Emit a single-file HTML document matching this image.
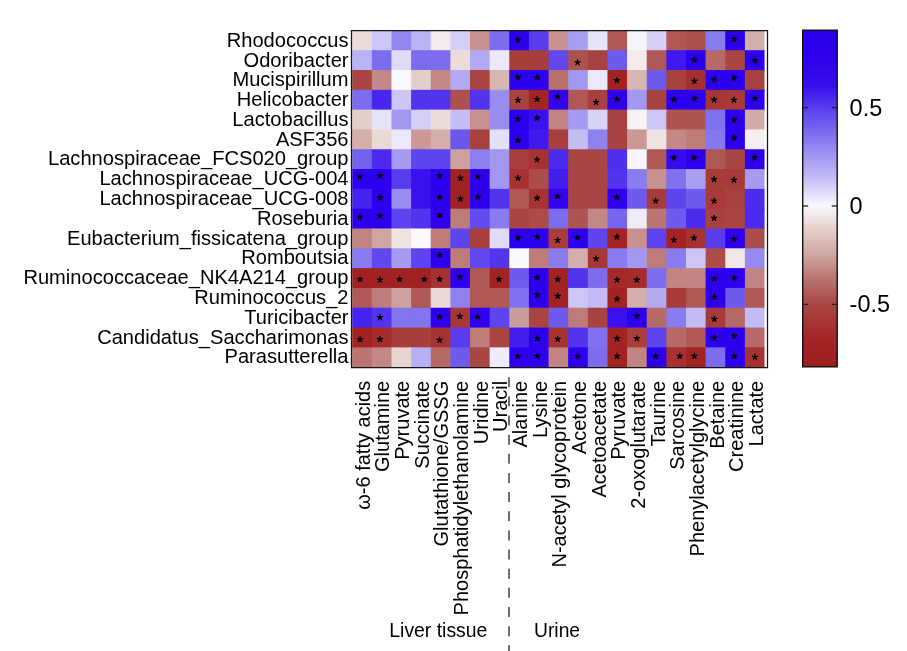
<!DOCTYPE html><html><head><meta charset="utf-8"><style>html,body{margin:0;padding:0;background:#fff;}body{width:907px;height:651px;overflow:hidden;}svg{display:block;will-change:transform;}text{font-family:"Liberation Sans",sans-serif;fill:#000;}</style></head><body>
<svg width="907" height="651" viewBox="0 0 907 651">
<defs><g id="st"><path d="M0,0 L0,-2.7 M0,0 L2.57,-0.83 M0,0 L1.59,2.18 M0,0 L-1.59,2.18 M0,0 L-2.57,-0.83" stroke="#000" stroke-width="1.35" stroke-linecap="round" fill="none"/><circle r="1.3" fill="#000"/></g></defs>
<rect x="352.20" y="30.40" width="20.64" height="20.81" fill="#ebdcda"/>
<rect x="371.83" y="30.40" width="20.64" height="20.81" fill="#ccc6f6"/>
<rect x="391.47" y="30.40" width="20.64" height="20.81" fill="#9286f0"/>
<rect x="411.11" y="30.40" width="20.64" height="20.81" fill="#bbb4f4"/>
<rect x="430.74" y="30.40" width="20.64" height="20.81" fill="#f3ebeb"/>
<rect x="450.38" y="30.40" width="20.64" height="20.81" fill="#d4cff7"/>
<rect x="470.01" y="30.40" width="20.64" height="20.81" fill="#c6918e"/>
<rect x="489.64" y="30.40" width="20.64" height="20.81" fill="#7c6def"/>
<rect x="509.28" y="30.40" width="20.64" height="20.81" fill="#2d00ed"/>
<rect x="528.91" y="30.40" width="20.64" height="20.81" fill="#583cee"/>
<rect x="548.55" y="30.40" width="20.64" height="20.81" fill="#c6918e"/>
<rect x="568.18" y="30.40" width="20.64" height="20.81" fill="#a89ff2"/>
<rect x="587.82" y="30.40" width="20.64" height="20.81" fill="#e7e4fa"/>
<rect x="607.46" y="30.40" width="20.64" height="20.81" fill="#af5856"/>
<rect x="627.09" y="30.40" width="20.64" height="20.81" fill="#f6f5fc"/>
<rect x="646.73" y="30.40" width="20.64" height="20.81" fill="#d4cff7"/>
<rect x="666.36" y="30.40" width="20.64" height="20.81" fill="#af5856"/>
<rect x="686.00" y="30.40" width="20.64" height="20.81" fill="#ad514f"/>
<rect x="705.63" y="30.40" width="20.64" height="20.81" fill="#897bf0"/>
<rect x="725.27" y="30.40" width="20.64" height="20.81" fill="#2d00ed"/>
<rect x="744.90" y="30.40" width="19.64" height="20.81" fill="#d4aeab"/>
<rect x="352.20" y="50.21" width="20.64" height="20.81" fill="#bbb4f4"/>
<rect x="371.83" y="50.21" width="20.64" height="20.81" fill="#7c6def"/>
<rect x="391.47" y="50.21" width="20.64" height="20.81" fill="#dfdbf9"/>
<rect x="411.11" y="50.21" width="20.64" height="20.81" fill="#7c6def"/>
<rect x="430.74" y="50.21" width="20.64" height="20.81" fill="#7c6def"/>
<rect x="450.38" y="50.21" width="20.64" height="20.81" fill="#ebdcda"/>
<rect x="470.01" y="50.21" width="20.64" height="20.81" fill="#b2a9f3"/>
<rect x="489.64" y="50.21" width="20.64" height="20.81" fill="#ebe8fb"/>
<rect x="509.28" y="50.21" width="20.64" height="20.81" fill="#a83d3b"/>
<rect x="528.91" y="50.21" width="20.64" height="20.81" fill="#a83d3b"/>
<rect x="548.55" y="50.21" width="20.64" height="20.81" fill="#6047ee"/>
<rect x="568.18" y="50.21" width="20.64" height="20.81" fill="#ad514f"/>
<rect x="587.82" y="50.21" width="20.64" height="20.81" fill="#a84240"/>
<rect x="607.46" y="50.21" width="20.64" height="20.81" fill="#6e5bee"/>
<rect x="627.09" y="50.21" width="20.64" height="20.81" fill="#f3ebeb"/>
<rect x="646.73" y="50.21" width="20.64" height="20.81" fill="#af5856"/>
<rect x="666.36" y="50.21" width="20.64" height="20.81" fill="#4019ee"/>
<rect x="686.00" y="50.21" width="20.64" height="20.81" fill="#2d00ed"/>
<rect x="705.63" y="50.21" width="20.64" height="20.81" fill="#b66967"/>
<rect x="725.27" y="50.21" width="20.64" height="20.81" fill="#a94644"/>
<rect x="744.90" y="50.21" width="19.64" height="20.81" fill="#2d00ed"/>
<rect x="352.20" y="70.02" width="20.64" height="20.81" fill="#a94644"/>
<rect x="371.83" y="70.02" width="20.64" height="20.81" fill="#c38886"/>
<rect x="391.47" y="70.02" width="20.64" height="20.81" fill="#faf9fd"/>
<rect x="411.11" y="70.02" width="20.64" height="20.81" fill="#e4cec8"/>
<rect x="430.74" y="70.02" width="20.64" height="20.81" fill="#c38886"/>
<rect x="450.38" y="70.02" width="20.64" height="20.81" fill="#b2a9f3"/>
<rect x="470.01" y="70.02" width="20.64" height="20.81" fill="#a94644"/>
<rect x="489.64" y="70.02" width="20.64" height="20.81" fill="#d7b5b1"/>
<rect x="509.28" y="70.02" width="20.64" height="20.81" fill="#2d00ed"/>
<rect x="528.91" y="70.02" width="20.64" height="20.81" fill="#2d00ed"/>
<rect x="548.55" y="70.02" width="20.64" height="20.81" fill="#b8706e"/>
<rect x="568.18" y="70.02" width="20.64" height="20.81" fill="#a298f2"/>
<rect x="587.82" y="70.02" width="20.64" height="20.81" fill="#ebe8fb"/>
<rect x="607.46" y="70.02" width="20.64" height="20.81" fill="#a32323"/>
<rect x="627.09" y="70.02" width="20.64" height="20.81" fill="#d7b5b1"/>
<rect x="646.73" y="70.02" width="20.64" height="20.81" fill="#6e5bee"/>
<rect x="666.36" y="70.02" width="20.64" height="20.81" fill="#a84240"/>
<rect x="686.00" y="70.02" width="20.64" height="20.81" fill="#a62f2f"/>
<rect x="705.63" y="70.02" width="20.64" height="20.81" fill="#2d00ed"/>
<rect x="725.27" y="70.02" width="20.64" height="20.81" fill="#2d00ee"/>
<rect x="744.90" y="70.02" width="19.64" height="20.81" fill="#a84240"/>
<rect x="352.20" y="89.83" width="20.64" height="20.81" fill="#7c6def"/>
<rect x="371.83" y="89.83" width="20.64" height="20.81" fill="#4926ee"/>
<rect x="391.47" y="89.83" width="20.64" height="20.81" fill="#ccc6f6"/>
<rect x="411.11" y="89.83" width="20.64" height="20.81" fill="#5233ee"/>
<rect x="430.74" y="89.83" width="20.64" height="20.81" fill="#5233ee"/>
<rect x="450.38" y="89.83" width="20.64" height="20.81" fill="#ad514f"/>
<rect x="470.01" y="89.83" width="20.64" height="20.81" fill="#5233ee"/>
<rect x="489.64" y="89.83" width="20.64" height="20.81" fill="#998df1"/>
<rect x="509.28" y="89.83" width="20.64" height="20.81" fill="#a84240"/>
<rect x="528.91" y="89.83" width="20.64" height="20.81" fill="#a42424"/>
<rect x="548.55" y="89.83" width="20.64" height="20.81" fill="#3205ee"/>
<rect x="568.18" y="89.83" width="20.64" height="20.81" fill="#af5856"/>
<rect x="587.82" y="89.83" width="20.64" height="20.81" fill="#a8403f"/>
<rect x="607.46" y="89.83" width="20.64" height="20.81" fill="#2e00ee"/>
<rect x="627.09" y="89.83" width="20.64" height="20.81" fill="#a298f2"/>
<rect x="646.73" y="89.83" width="20.64" height="20.81" fill="#a84240"/>
<rect x="666.36" y="89.83" width="20.64" height="20.81" fill="#2d00ee"/>
<rect x="686.00" y="89.83" width="20.64" height="20.81" fill="#2d00ee"/>
<rect x="705.63" y="89.83" width="20.64" height="20.81" fill="#a73736"/>
<rect x="725.27" y="89.83" width="20.64" height="20.81" fill="#a73938"/>
<rect x="744.90" y="89.83" width="19.64" height="20.81" fill="#2d00ee"/>
<rect x="352.20" y="109.64" width="20.64" height="20.81" fill="#e4cec8"/>
<rect x="371.83" y="109.64" width="20.64" height="20.81" fill="#e7e4fa"/>
<rect x="391.47" y="109.64" width="20.64" height="20.81" fill="#a298f2"/>
<rect x="411.11" y="109.64" width="20.64" height="20.81" fill="#d4cff7"/>
<rect x="430.74" y="109.64" width="20.64" height="20.81" fill="#ebdcda"/>
<rect x="450.38" y="109.64" width="20.64" height="20.81" fill="#c5bef5"/>
<rect x="470.01" y="109.64" width="20.64" height="20.81" fill="#c6918e"/>
<rect x="489.64" y="109.64" width="20.64" height="20.81" fill="#998df1"/>
<rect x="509.28" y="109.64" width="20.64" height="20.81" fill="#2d00ed"/>
<rect x="528.91" y="109.64" width="20.64" height="20.81" fill="#3a10ee"/>
<rect x="548.55" y="109.64" width="20.64" height="20.81" fill="#c18482"/>
<rect x="568.18" y="109.64" width="20.64" height="20.81" fill="#a59bf2"/>
<rect x="587.82" y="109.64" width="20.64" height="20.81" fill="#d7d3f7"/>
<rect x="607.46" y="109.64" width="20.64" height="20.81" fill="#a84240"/>
<rect x="627.09" y="109.64" width="20.64" height="20.81" fill="#f6f2f4"/>
<rect x="646.73" y="109.64" width="20.64" height="20.81" fill="#ccc6f6"/>
<rect x="666.36" y="109.64" width="20.64" height="20.81" fill="#ae5452"/>
<rect x="686.00" y="109.64" width="20.64" height="20.81" fill="#ae5452"/>
<rect x="705.63" y="109.64" width="20.64" height="20.81" fill="#7f71ef"/>
<rect x="725.27" y="109.64" width="20.64" height="20.81" fill="#2d00ed"/>
<rect x="744.90" y="109.64" width="19.64" height="20.81" fill="#d2aba8"/>
<rect x="352.20" y="129.45" width="20.64" height="20.81" fill="#d4aeab"/>
<rect x="371.83" y="129.45" width="20.64" height="20.81" fill="#ead9d5"/>
<rect x="391.47" y="129.45" width="20.64" height="20.81" fill="#ebe8fb"/>
<rect x="411.11" y="129.45" width="20.64" height="20.81" fill="#ca9996"/>
<rect x="430.74" y="129.45" width="20.64" height="20.81" fill="#d4aeab"/>
<rect x="450.38" y="129.45" width="20.64" height="20.81" fill="#6b57ee"/>
<rect x="470.01" y="129.45" width="20.64" height="20.81" fill="#a84240"/>
<rect x="489.64" y="129.45" width="20.64" height="20.81" fill="#e3e0f9"/>
<rect x="509.28" y="129.45" width="20.64" height="20.81" fill="#2d00ed"/>
<rect x="528.91" y="129.45" width="20.64" height="20.81" fill="#4019ee"/>
<rect x="548.55" y="129.45" width="20.64" height="20.81" fill="#a8403f"/>
<rect x="568.18" y="129.45" width="20.64" height="20.81" fill="#c5bef5"/>
<rect x="587.82" y="129.45" width="20.64" height="20.81" fill="#8f82f0"/>
<rect x="607.46" y="129.45" width="20.64" height="20.81" fill="#a84240"/>
<rect x="627.09" y="129.45" width="20.64" height="20.81" fill="#ca9996"/>
<rect x="646.73" y="129.45" width="20.64" height="20.81" fill="#efe4e2"/>
<rect x="666.36" y="129.45" width="20.64" height="20.81" fill="#c38886"/>
<rect x="686.00" y="129.45" width="20.64" height="20.81" fill="#bd7c7a"/>
<rect x="705.63" y="129.45" width="20.64" height="20.81" fill="#8678ef"/>
<rect x="725.27" y="129.45" width="20.64" height="20.81" fill="#2d00ed"/>
<rect x="744.90" y="129.45" width="19.64" height="20.81" fill="#f4eef0"/>
<rect x="352.20" y="149.26" width="20.64" height="20.81" fill="#7362ee"/>
<rect x="371.83" y="149.26" width="20.64" height="20.81" fill="#4c2aee"/>
<rect x="391.47" y="149.26" width="20.64" height="20.81" fill="#a59bf2"/>
<rect x="411.11" y="149.26" width="20.64" height="20.81" fill="#5d44ee"/>
<rect x="430.74" y="149.26" width="20.64" height="20.81" fill="#5d44ee"/>
<rect x="450.38" y="149.26" width="20.64" height="20.81" fill="#cda19e"/>
<rect x="470.01" y="149.26" width="20.64" height="20.81" fill="#8c7ff0"/>
<rect x="489.64" y="149.26" width="20.64" height="20.81" fill="#a298f2"/>
<rect x="509.28" y="149.26" width="20.64" height="20.81" fill="#a83e3d"/>
<rect x="528.91" y="149.26" width="20.64" height="20.81" fill="#a63332"/>
<rect x="548.55" y="149.26" width="20.64" height="20.81" fill="#4c2aee"/>
<rect x="568.18" y="149.26" width="20.64" height="20.81" fill="#a94644"/>
<rect x="587.82" y="149.26" width="20.64" height="20.81" fill="#a94644"/>
<rect x="607.46" y="149.26" width="20.64" height="20.81" fill="#4f2fee"/>
<rect x="627.09" y="149.26" width="20.64" height="20.81" fill="#f6f5fc"/>
<rect x="646.73" y="149.26" width="20.64" height="20.81" fill="#af5856"/>
<rect x="666.36" y="149.26" width="20.64" height="20.81" fill="#360bee"/>
<rect x="686.00" y="149.26" width="20.64" height="20.81" fill="#2e00ee"/>
<rect x="705.63" y="149.26" width="20.64" height="20.81" fill="#af5856"/>
<rect x="725.27" y="149.26" width="20.64" height="20.81" fill="#a94644"/>
<rect x="744.90" y="149.26" width="19.64" height="20.81" fill="#2e00ee"/>
<rect x="352.20" y="169.07" width="20.64" height="20.81" fill="#2d00ed"/>
<rect x="371.83" y="169.07" width="20.64" height="20.81" fill="#2d00ed"/>
<rect x="391.47" y="169.07" width="20.64" height="20.81" fill="#583cee"/>
<rect x="411.11" y="169.07" width="20.64" height="20.81" fill="#3a10ee"/>
<rect x="430.74" y="169.07" width="20.64" height="20.81" fill="#2d00ed"/>
<rect x="450.38" y="169.07" width="20.64" height="20.81" fill="#a22223"/>
<rect x="470.01" y="169.07" width="20.64" height="20.81" fill="#2e00ee"/>
<rect x="489.64" y="169.07" width="20.64" height="20.81" fill="#a298f2"/>
<rect x="509.28" y="169.07" width="20.64" height="20.81" fill="#a63332"/>
<rect x="528.91" y="169.07" width="20.64" height="20.81" fill="#ac4d4b"/>
<rect x="548.55" y="169.07" width="20.64" height="20.81" fill="#431dee"/>
<rect x="568.18" y="169.07" width="20.64" height="20.81" fill="#a94644"/>
<rect x="587.82" y="169.07" width="20.64" height="20.81" fill="#a94644"/>
<rect x="607.46" y="169.07" width="20.64" height="20.81" fill="#5233ee"/>
<rect x="627.09" y="169.07" width="20.64" height="20.81" fill="#897bf0"/>
<rect x="646.73" y="169.07" width="20.64" height="20.81" fill="#c6918e"/>
<rect x="666.36" y="169.07" width="20.64" height="20.81" fill="#7f71ef"/>
<rect x="686.00" y="169.07" width="20.64" height="20.81" fill="#a89ff2"/>
<rect x="705.63" y="169.07" width="20.64" height="20.81" fill="#a73b39"/>
<rect x="725.27" y="169.07" width="20.64" height="20.81" fill="#a73b39"/>
<rect x="744.90" y="169.07" width="19.64" height="20.81" fill="#a59bf2"/>
<rect x="352.20" y="188.88" width="20.64" height="20.81" fill="#4622ee"/>
<rect x="371.83" y="188.88" width="20.64" height="20.81" fill="#2d00ed"/>
<rect x="391.47" y="188.88" width="20.64" height="20.81" fill="#998df1"/>
<rect x="411.11" y="188.88" width="20.64" height="20.81" fill="#3a10ee"/>
<rect x="430.74" y="188.88" width="20.64" height="20.81" fill="#2d00ed"/>
<rect x="450.38" y="188.88" width="20.64" height="20.81" fill="#a22223"/>
<rect x="470.01" y="188.88" width="20.64" height="20.81" fill="#2d00ee"/>
<rect x="489.64" y="188.88" width="20.64" height="20.81" fill="#5233ee"/>
<rect x="509.28" y="188.88" width="20.64" height="20.81" fill="#af5856"/>
<rect x="528.91" y="188.88" width="20.64" height="20.81" fill="#a63332"/>
<rect x="548.55" y="188.88" width="20.64" height="20.81" fill="#3205ee"/>
<rect x="568.18" y="188.88" width="20.64" height="20.81" fill="#a94644"/>
<rect x="587.82" y="188.88" width="20.64" height="20.81" fill="#a94644"/>
<rect x="607.46" y="188.88" width="20.64" height="20.81" fill="#2e00ee"/>
<rect x="627.09" y="188.88" width="20.64" height="20.81" fill="#6e5bee"/>
<rect x="646.73" y="188.88" width="20.64" height="20.81" fill="#a73b39"/>
<rect x="666.36" y="188.88" width="20.64" height="20.81" fill="#5d44ee"/>
<rect x="686.00" y="188.88" width="20.64" height="20.81" fill="#6e5bee"/>
<rect x="705.63" y="188.88" width="20.64" height="20.81" fill="#a73b39"/>
<rect x="725.27" y="188.88" width="20.64" height="20.81" fill="#a84240"/>
<rect x="744.90" y="188.88" width="19.64" height="20.81" fill="#4c2aee"/>
<rect x="352.20" y="208.69" width="20.64" height="20.81" fill="#2d00ed"/>
<rect x="371.83" y="208.69" width="20.64" height="20.81" fill="#2d00ed"/>
<rect x="391.47" y="208.69" width="20.64" height="20.81" fill="#5d44ee"/>
<rect x="411.11" y="208.69" width="20.64" height="20.81" fill="#5233ee"/>
<rect x="430.74" y="208.69" width="20.64" height="20.81" fill="#2e00ee"/>
<rect x="450.38" y="208.69" width="20.64" height="20.81" fill="#bd7c7a"/>
<rect x="470.01" y="208.69" width="20.64" height="20.81" fill="#634bee"/>
<rect x="489.64" y="208.69" width="20.64" height="20.81" fill="#897bf0"/>
<rect x="509.28" y="208.69" width="20.64" height="20.81" fill="#a94644"/>
<rect x="528.91" y="208.69" width="20.64" height="20.81" fill="#ac4d4b"/>
<rect x="548.55" y="208.69" width="20.64" height="20.81" fill="#7c6def"/>
<rect x="568.18" y="208.69" width="20.64" height="20.81" fill="#ae5452"/>
<rect x="587.82" y="208.69" width="20.64" height="20.81" fill="#c38886"/>
<rect x="607.46" y="208.69" width="20.64" height="20.81" fill="#7666ee"/>
<rect x="627.09" y="208.69" width="20.64" height="20.81" fill="#eeecfb"/>
<rect x="646.73" y="208.69" width="20.64" height="20.81" fill="#ba7472"/>
<rect x="666.36" y="208.69" width="20.64" height="20.81" fill="#6e5bee"/>
<rect x="686.00" y="208.69" width="20.64" height="20.81" fill="#4c2aee"/>
<rect x="705.63" y="208.69" width="20.64" height="20.81" fill="#a84240"/>
<rect x="725.27" y="208.69" width="20.64" height="20.81" fill="#a94644"/>
<rect x="744.90" y="208.69" width="19.64" height="20.81" fill="#4c2aee"/>
<rect x="352.20" y="228.50" width="20.64" height="20.81" fill="#c18482"/>
<rect x="371.83" y="228.50" width="20.64" height="20.81" fill="#cfa5a2"/>
<rect x="391.47" y="228.50" width="20.64" height="20.81" fill="#efe4e2"/>
<rect x="411.11" y="228.50" width="20.64" height="20.81" fill="#faf9fd"/>
<rect x="430.74" y="228.50" width="20.64" height="20.81" fill="#bd7c7a"/>
<rect x="450.38" y="228.50" width="20.64" height="20.81" fill="#5d44ee"/>
<rect x="470.01" y="228.50" width="20.64" height="20.81" fill="#a83e3d"/>
<rect x="489.64" y="228.50" width="20.64" height="20.81" fill="#dfdbf9"/>
<rect x="509.28" y="228.50" width="20.64" height="20.81" fill="#2d00ed"/>
<rect x="528.91" y="228.50" width="20.64" height="20.81" fill="#2d00ed"/>
<rect x="548.55" y="228.50" width="20.64" height="20.81" fill="#a83d3b"/>
<rect x="568.18" y="228.50" width="20.64" height="20.81" fill="#2e00ee"/>
<rect x="587.82" y="228.50" width="20.64" height="20.81" fill="#5d44ee"/>
<rect x="607.46" y="228.50" width="20.64" height="20.81" fill="#a42424"/>
<rect x="627.09" y="228.50" width="20.64" height="20.81" fill="#c6918e"/>
<rect x="646.73" y="228.50" width="20.64" height="20.81" fill="#5d44ee"/>
<rect x="666.36" y="228.50" width="20.64" height="20.81" fill="#a42424"/>
<rect x="686.00" y="228.50" width="20.64" height="20.81" fill="#a63332"/>
<rect x="705.63" y="228.50" width="20.64" height="20.81" fill="#583cee"/>
<rect x="725.27" y="228.50" width="20.64" height="20.81" fill="#2e00ee"/>
<rect x="744.90" y="228.50" width="19.64" height="20.81" fill="#ac4d4b"/>
<rect x="352.20" y="248.31" width="20.64" height="20.81" fill="#897bf0"/>
<rect x="371.83" y="248.31" width="20.64" height="20.81" fill="#6047ee"/>
<rect x="391.47" y="248.31" width="20.64" height="20.81" fill="#a59bf2"/>
<rect x="411.11" y="248.31" width="20.64" height="20.81" fill="#5d44ee"/>
<rect x="430.74" y="248.31" width="20.64" height="20.81" fill="#2e00ee"/>
<rect x="450.38" y="248.31" width="20.64" height="20.81" fill="#bd7c7a"/>
<rect x="470.01" y="248.31" width="20.64" height="20.81" fill="#6047ee"/>
<rect x="489.64" y="248.31" width="20.64" height="20.81" fill="#5233ee"/>
<rect x="509.28" y="248.31" width="20.64" height="20.81" fill="#faf9fd"/>
<rect x="528.91" y="248.31" width="20.64" height="20.81" fill="#bd7c7a"/>
<rect x="548.55" y="248.31" width="20.64" height="20.81" fill="#897bf0"/>
<rect x="568.18" y="248.31" width="20.64" height="20.81" fill="#d4aeab"/>
<rect x="587.82" y="248.31" width="20.64" height="20.81" fill="#a73736"/>
<rect x="607.46" y="248.31" width="20.64" height="20.81" fill="#897bf0"/>
<rect x="627.09" y="248.31" width="20.64" height="20.81" fill="#a298f2"/>
<rect x="646.73" y="248.31" width="20.64" height="20.81" fill="#bd7c7a"/>
<rect x="666.36" y="248.31" width="20.64" height="20.81" fill="#897bf0"/>
<rect x="686.00" y="248.31" width="20.64" height="20.81" fill="#ccc6f6"/>
<rect x="705.63" y="248.31" width="20.64" height="20.81" fill="#ac4d4b"/>
<rect x="725.27" y="248.31" width="20.64" height="20.81" fill="#f1e7e7"/>
<rect x="744.90" y="248.31" width="19.64" height="20.81" fill="#9689f1"/>
<rect x="352.20" y="268.12" width="20.64" height="20.81" fill="#a22223"/>
<rect x="371.83" y="268.12" width="20.64" height="20.81" fill="#a22223"/>
<rect x="391.47" y="268.12" width="20.64" height="20.81" fill="#a22223"/>
<rect x="411.11" y="268.12" width="20.64" height="20.81" fill="#a22223"/>
<rect x="430.74" y="268.12" width="20.64" height="20.81" fill="#a63332"/>
<rect x="450.38" y="268.12" width="20.64" height="20.81" fill="#2e00ee"/>
<rect x="470.01" y="268.12" width="20.64" height="20.81" fill="#af5856"/>
<rect x="489.64" y="268.12" width="20.64" height="20.81" fill="#a32323"/>
<rect x="509.28" y="268.12" width="20.64" height="20.81" fill="#6e5bee"/>
<rect x="528.91" y="268.12" width="20.64" height="20.81" fill="#2d00ed"/>
<rect x="548.55" y="268.12" width="20.64" height="20.81" fill="#a32323"/>
<rect x="568.18" y="268.12" width="20.64" height="20.81" fill="#5233ee"/>
<rect x="587.82" y="268.12" width="20.64" height="20.81" fill="#7c6def"/>
<rect x="607.46" y="268.12" width="20.64" height="20.81" fill="#a52a29"/>
<rect x="627.09" y="268.12" width="20.64" height="20.81" fill="#a52c2b"/>
<rect x="646.73" y="268.12" width="20.64" height="20.81" fill="#7c6def"/>
<rect x="666.36" y="268.12" width="20.64" height="20.81" fill="#c18482"/>
<rect x="686.00" y="268.12" width="20.64" height="20.81" fill="#c18482"/>
<rect x="705.63" y="268.12" width="20.64" height="20.81" fill="#2d00ed"/>
<rect x="725.27" y="268.12" width="20.64" height="20.81" fill="#2e00ee"/>
<rect x="744.90" y="268.12" width="19.64" height="20.81" fill="#c18482"/>
<rect x="352.20" y="287.93" width="20.64" height="20.81" fill="#af5856"/>
<rect x="371.83" y="287.93" width="20.64" height="20.81" fill="#bd7c7a"/>
<rect x="391.47" y="287.93" width="20.64" height="20.81" fill="#cda19e"/>
<rect x="411.11" y="287.93" width="20.64" height="20.81" fill="#af5856"/>
<rect x="430.74" y="287.93" width="20.64" height="20.81" fill="#ead9d5"/>
<rect x="450.38" y="287.93" width="20.64" height="20.81" fill="#8f82f0"/>
<rect x="470.01" y="287.93" width="20.64" height="20.81" fill="#af5856"/>
<rect x="489.64" y="287.93" width="20.64" height="20.81" fill="#af5856"/>
<rect x="509.28" y="287.93" width="20.64" height="20.81" fill="#7f71ef"/>
<rect x="528.91" y="287.93" width="20.64" height="20.81" fill="#2d00ed"/>
<rect x="548.55" y="287.93" width="20.64" height="20.81" fill="#a32323"/>
<rect x="568.18" y="287.93" width="20.64" height="20.81" fill="#ccc6f6"/>
<rect x="587.82" y="287.93" width="20.64" height="20.81" fill="#c2bbf4"/>
<rect x="607.46" y="287.93" width="20.64" height="20.81" fill="#a32323"/>
<rect x="627.09" y="287.93" width="20.64" height="20.81" fill="#d4aeab"/>
<rect x="646.73" y="287.93" width="20.64" height="20.81" fill="#b2a9f3"/>
<rect x="666.36" y="287.93" width="20.64" height="20.81" fill="#a73b39"/>
<rect x="686.00" y="287.93" width="20.64" height="20.81" fill="#af5856"/>
<rect x="705.63" y="287.93" width="20.64" height="20.81" fill="#2d00ed"/>
<rect x="725.27" y="287.93" width="20.64" height="20.81" fill="#6e5bee"/>
<rect x="744.90" y="287.93" width="19.64" height="20.81" fill="#af5856"/>
<rect x="352.20" y="307.74" width="20.64" height="20.81" fill="#4622ee"/>
<rect x="371.83" y="307.74" width="20.64" height="20.81" fill="#5233ee"/>
<rect x="391.47" y="307.74" width="20.64" height="20.81" fill="#8374ef"/>
<rect x="411.11" y="307.74" width="20.64" height="20.81" fill="#8374ef"/>
<rect x="430.74" y="307.74" width="20.64" height="20.81" fill="#2e00ee"/>
<rect x="450.38" y="307.74" width="20.64" height="20.81" fill="#a73736"/>
<rect x="470.01" y="307.74" width="20.64" height="20.81" fill="#2e00ee"/>
<rect x="489.64" y="307.74" width="20.64" height="20.81" fill="#5d44ee"/>
<rect x="509.28" y="307.74" width="20.64" height="20.81" fill="#cb9d9a"/>
<rect x="528.91" y="307.74" width="20.64" height="20.81" fill="#a94644"/>
<rect x="548.55" y="307.74" width="20.64" height="20.81" fill="#6e5bee"/>
<rect x="568.18" y="307.74" width="20.64" height="20.81" fill="#bd7c7a"/>
<rect x="587.82" y="307.74" width="20.64" height="20.81" fill="#a84240"/>
<rect x="607.46" y="307.74" width="20.64" height="20.81" fill="#3a10ee"/>
<rect x="627.09" y="307.74" width="20.64" height="20.81" fill="#2e00ee"/>
<rect x="646.73" y="307.74" width="20.64" height="20.81" fill="#b66967"/>
<rect x="666.36" y="307.74" width="20.64" height="20.81" fill="#897bf0"/>
<rect x="686.00" y="307.74" width="20.64" height="20.81" fill="#c2bbf4"/>
<rect x="705.63" y="307.74" width="20.64" height="20.81" fill="#a73b39"/>
<rect x="725.27" y="307.74" width="20.64" height="20.81" fill="#b66967"/>
<rect x="744.90" y="307.74" width="19.64" height="20.81" fill="#c2bbf4"/>
<rect x="352.20" y="327.55" width="20.64" height="20.81" fill="#a32323"/>
<rect x="371.83" y="327.55" width="20.64" height="20.81" fill="#a52d2d"/>
<rect x="391.47" y="327.55" width="20.64" height="20.81" fill="#a83d3b"/>
<rect x="411.11" y="327.55" width="20.64" height="20.81" fill="#a83d3b"/>
<rect x="430.74" y="327.55" width="20.64" height="20.81" fill="#a63332"/>
<rect x="450.38" y="327.55" width="20.64" height="20.81" fill="#583cee"/>
<rect x="470.01" y="327.55" width="20.64" height="20.81" fill="#bd7c7a"/>
<rect x="489.64" y="327.55" width="20.64" height="20.81" fill="#a94644"/>
<rect x="509.28" y="327.55" width="20.64" height="20.81" fill="#431dee"/>
<rect x="528.91" y="327.55" width="20.64" height="20.81" fill="#2d00ee"/>
<rect x="548.55" y="327.55" width="20.64" height="20.81" fill="#a63332"/>
<rect x="568.18" y="327.55" width="20.64" height="20.81" fill="#5233ee"/>
<rect x="587.82" y="327.55" width="20.64" height="20.81" fill="#7f71ef"/>
<rect x="607.46" y="327.55" width="20.64" height="20.81" fill="#a32323"/>
<rect x="627.09" y="327.55" width="20.64" height="20.81" fill="#a83d3b"/>
<rect x="646.73" y="327.55" width="20.64" height="20.81" fill="#5d44ee"/>
<rect x="666.36" y="327.55" width="20.64" height="20.81" fill="#b66967"/>
<rect x="686.00" y="327.55" width="20.64" height="20.81" fill="#af5856"/>
<rect x="705.63" y="327.55" width="20.64" height="20.81" fill="#2d00ee"/>
<rect x="725.27" y="327.55" width="20.64" height="20.81" fill="#2d00ee"/>
<rect x="744.90" y="327.55" width="19.64" height="20.81" fill="#b66967"/>
<rect x="352.20" y="347.36" width="20.64" height="19.81" fill="#ba7472"/>
<rect x="371.83" y="347.36" width="20.64" height="19.81" fill="#c38886"/>
<rect x="391.47" y="347.36" width="20.64" height="19.81" fill="#e8d5d1"/>
<rect x="411.11" y="347.36" width="20.64" height="19.81" fill="#b8b0f4"/>
<rect x="430.74" y="347.36" width="20.64" height="19.81" fill="#b66967"/>
<rect x="450.38" y="347.36" width="20.64" height="19.81" fill="#6e5bee"/>
<rect x="470.01" y="347.36" width="20.64" height="19.81" fill="#a94644"/>
<rect x="489.64" y="347.36" width="20.64" height="19.81" fill="#eeecfb"/>
<rect x="509.28" y="347.36" width="20.64" height="19.81" fill="#2e00ee"/>
<rect x="528.91" y="347.36" width="20.64" height="19.81" fill="#2e00ee"/>
<rect x="548.55" y="347.36" width="20.64" height="19.81" fill="#c18482"/>
<rect x="568.18" y="347.36" width="20.64" height="19.81" fill="#2e00ee"/>
<rect x="587.82" y="347.36" width="20.64" height="19.81" fill="#7c6def"/>
<rect x="607.46" y="347.36" width="20.64" height="19.81" fill="#a32323"/>
<rect x="627.09" y="347.36" width="20.64" height="19.81" fill="#c18482"/>
<rect x="646.73" y="347.36" width="20.64" height="19.81" fill="#2d00ee"/>
<rect x="666.36" y="347.36" width="20.64" height="19.81" fill="#a63332"/>
<rect x="686.00" y="347.36" width="20.64" height="19.81" fill="#a32323"/>
<rect x="705.63" y="347.36" width="20.64" height="19.81" fill="#7c6def"/>
<rect x="725.27" y="347.36" width="20.64" height="19.81" fill="#2d00ee"/>
<rect x="744.90" y="347.36" width="19.64" height="19.81" fill="#a63332"/>
<use href="#st" x="518.00" y="39.71"/>
<use href="#st" x="733.97" y="39.01"/>
<use href="#st" x="577.51" y="62.53"/>
<use href="#st" x="694.43" y="59.93"/>
<use href="#st" x="754.94" y="60.53"/>
<use href="#st" x="518.00" y="77.35"/>
<use href="#st" x="537.07" y="77.35"/>
<use href="#st" x="616.85" y="80.35"/>
<use href="#st" x="694.43" y="81.05"/>
<use href="#st" x="714.10" y="79.55"/>
<use href="#st" x="733.97" y="77.75"/>
<use href="#st" x="518.00" y="100.17"/>
<use href="#st" x="537.07" y="99.17"/>
<use href="#st" x="557.63" y="96.67"/>
<use href="#st" x="596.08" y="102.17"/>
<use href="#st" x="616.85" y="99.17"/>
<use href="#st" x="673.86" y="99.37"/>
<use href="#st" x="694.43" y="98.87"/>
<use href="#st" x="714.10" y="99.77"/>
<use href="#st" x="733.97" y="99.97"/>
<use href="#st" x="754.94" y="98.47"/>
<use href="#st" x="518.00" y="118.99"/>
<use href="#st" x="537.07" y="117.99"/>
<use href="#st" x="733.97" y="119.79"/>
<use href="#st" x="518.00" y="140.31"/>
<use href="#st" x="733.97" y="137.81"/>
<use href="#st" x="537.07" y="159.63"/>
<use href="#st" x="673.86" y="157.73"/>
<use href="#st" x="694.03" y="157.73"/>
<use href="#st" x="754.54" y="157.73"/>
<use href="#st" x="359.83" y="176.55"/>
<use href="#st" x="380.11" y="175.65"/>
<use href="#st" x="439.71" y="175.65"/>
<use href="#st" x="460.38" y="178.05"/>
<use href="#st" x="477.66" y="176.55"/>
<use href="#st" x="518.00" y="178.05"/>
<use href="#st" x="714.10" y="179.45"/>
<use href="#st" x="733.97" y="179.95"/>
<use href="#st" x="380.11" y="197.67"/>
<use href="#st" x="439.71" y="196.97"/>
<use href="#st" x="460.38" y="198.87"/>
<use href="#st" x="477.66" y="196.97"/>
<use href="#st" x="537.07" y="198.07"/>
<use href="#st" x="557.63" y="196.27"/>
<use href="#st" x="616.85" y="197.17"/>
<use href="#st" x="655.69" y="200.87"/>
<use href="#st" x="714.10" y="200.87"/>
<use href="#st" x="359.83" y="216.99"/>
<use href="#st" x="380.11" y="215.69"/>
<use href="#st" x="439.71" y="215.09"/>
<use href="#st" x="714.10" y="218.09"/>
<use href="#st" x="518.00" y="237.91"/>
<use href="#st" x="537.07" y="236.91"/>
<use href="#st" x="557.63" y="240.31"/>
<use href="#st" x="577.51" y="237.51"/>
<use href="#st" x="616.85" y="236.91"/>
<use href="#st" x="673.86" y="239.91"/>
<use href="#st" x="694.03" y="237.91"/>
<use href="#st" x="733.97" y="238.91"/>
<use href="#st" x="439.71" y="254.93"/>
<use href="#st" x="596.08" y="258.73"/>
<use href="#st" x="360.03" y="279.25"/>
<use href="#st" x="379.91" y="279.85"/>
<use href="#st" x="399.67" y="279.25"/>
<use href="#st" x="424.25" y="279.25"/>
<use href="#st" x="439.62" y="279.25"/>
<use href="#st" x="459.79" y="276.65"/>
<use href="#st" x="498.93" y="279.25"/>
<use href="#st" x="537.17" y="277.55"/>
<use href="#st" x="557.74" y="279.25"/>
<use href="#st" x="617.05" y="279.85"/>
<use href="#st" x="636.82" y="279.85"/>
<use href="#st" x="714.30" y="278.75"/>
<use href="#st" x="734.26" y="277.95"/>
<use href="#st" x="537.17" y="294.87"/>
<use href="#st" x="557.74" y="296.07"/>
<use href="#st" x="617.05" y="298.97"/>
<use href="#st" x="714.30" y="296.97"/>
<use href="#st" x="379.91" y="317.49"/>
<use href="#st" x="439.62" y="316.69"/>
<use href="#st" x="459.79" y="316.39"/>
<use href="#st" x="477.46" y="316.69"/>
<use href="#st" x="636.82" y="315.89"/>
<use href="#st" x="714.30" y="319.09"/>
<use href="#st" x="360.03" y="339.31"/>
<use href="#st" x="379.91" y="339.31"/>
<use href="#st" x="439.62" y="340.11"/>
<use href="#st" x="537.17" y="338.51"/>
<use href="#st" x="557.74" y="339.01"/>
<use href="#st" x="617.05" y="338.51"/>
<use href="#st" x="636.82" y="338.51"/>
<use href="#st" x="714.30" y="338.01"/>
<use href="#st" x="734.26" y="336.01"/>
<use href="#st" x="517.89" y="356.23"/>
<use href="#st" x="537.17" y="356.23"/>
<use href="#st" x="577.51" y="356.23"/>
<use href="#st" x="617.05" y="356.23"/>
<use href="#st" x="655.69" y="356.23"/>
<use href="#st" x="679.86" y="356.23"/>
<use href="#st" x="694.43" y="356.23"/>
<use href="#st" x="734.26" y="356.23"/>
<use href="#st" x="754.94" y="357.03"/>
<path d="M351.5,30.5 V367.5 H767.5 V30.5 Z" fill="none" stroke="#151515" stroke-width="1.25"/>
<text x="348.5" y="46.75" font-size="20.1" text-anchor="end">Rhodococcus</text>
<text x="348.5" y="66.54" font-size="20.1" text-anchor="end">Odoribacter</text>
<text x="348.5" y="86.33" font-size="20.1" text-anchor="end">Mucispirillum</text>
<text x="348.5" y="106.12" font-size="20.1" text-anchor="end">Helicobacter</text>
<text x="348.5" y="125.91" font-size="20.1" text-anchor="end">Lactobacillus</text>
<text x="348.5" y="145.70" font-size="20.1" text-anchor="end">ASF356</text>
<text x="348.5" y="165.49" font-size="20.1" text-anchor="end">Lachnospiraceae_FCS020_group</text>
<text x="348.5" y="185.28" font-size="20.1" text-anchor="end">Lachnospiraceae_UCG-004</text>
<text x="348.5" y="205.07" font-size="20.1" text-anchor="end">Lachnospiraceae_UCG-008</text>
<text x="348.5" y="224.86" font-size="20.1" text-anchor="end">Roseburia</text>
<text x="348.5" y="244.65" font-size="20.1" text-anchor="end">Eubacterium_fissicatena_group</text>
<text x="348.5" y="264.44" font-size="20.1" text-anchor="end">Romboutsia</text>
<text x="348.5" y="284.23" font-size="20.1" text-anchor="end">Ruminococcaceae_NK4A214_group</text>
<text x="348.5" y="304.02" font-size="20.1" text-anchor="end">Ruminococcus_2</text>
<text x="348.5" y="323.81" font-size="20.1" text-anchor="end">Turicibacter</text>
<text x="348.5" y="343.60" font-size="20.1" text-anchor="end">Candidatus_Saccharimonas</text>
<text x="348.5" y="363.39" font-size="20.1" text-anchor="end">Parasutterella</text>
<text transform="translate(369.63,380.8) rotate(-90)" font-size="20" text-anchor="end">ω-6 fatty acids</text>
<text transform="translate(389.31,380.8) rotate(-90)" font-size="20" text-anchor="end">Glutamine</text>
<text transform="translate(408.97,380.8) rotate(-90)" font-size="20" text-anchor="end">Pyruvate</text>
<text transform="translate(428.64,380.8) rotate(-90)" font-size="20" text-anchor="end">Succinate</text>
<text transform="translate(448.31,380.8) rotate(-90)" font-size="20" text-anchor="end">Glutathione/GSSG</text>
<text transform="translate(467.99,380.8) rotate(-90)" font-size="20" text-anchor="end">Phosphatidylethanolamine</text>
<text transform="translate(487.66,380.8) rotate(-90)" font-size="20" text-anchor="end">Uridine</text>
<text transform="translate(507.32,380.8) rotate(-90)" font-size="20" text-anchor="end">Uracil</text>
<text transform="translate(527.00,380.8) rotate(-90)" font-size="20" text-anchor="end">Alanine</text>
<text transform="translate(546.67,380.8) rotate(-90)" font-size="20" text-anchor="end">Lysine</text>
<text transform="translate(566.34,380.8) rotate(-90)" font-size="20" text-anchor="end">N-acetyl glycoprotein</text>
<text transform="translate(586.01,380.8) rotate(-90)" font-size="20" text-anchor="end">Acetone</text>
<text transform="translate(605.68,380.8) rotate(-90)" font-size="20" text-anchor="end">Acetoacetate</text>
<text transform="translate(625.35,380.8) rotate(-90)" font-size="20" text-anchor="end">Pyruvate</text>
<text transform="translate(645.02,380.8) rotate(-90)" font-size="20" text-anchor="end">2-oxoglutarate</text>
<text transform="translate(664.69,380.8) rotate(-90)" font-size="20" text-anchor="end">Taurine</text>
<text transform="translate(684.36,380.8) rotate(-90)" font-size="20" text-anchor="end">Sarcosine</text>
<text transform="translate(704.03,380.8) rotate(-90)" font-size="20" text-anchor="end">Phenylacetylglycine</text>
<text transform="translate(723.70,380.8) rotate(-90)" font-size="20" text-anchor="end">Betaine</text>
<text transform="translate(743.37,380.8) rotate(-90)" font-size="20" text-anchor="end">Creatinine</text>
<text transform="translate(763.04,380.8) rotate(-90)" font-size="20" text-anchor="end">Lactate</text>
<line x1="509" y1="377.2" x2="509" y2="651" stroke="#222" stroke-width="1.3" stroke-dasharray="10 9.15"/>
<text x="389.3" y="637" font-size="19.4">Liver tissue</text>
<text x="534" y="637" font-size="19.3">Urine</text>
<defs><linearGradient id="cb" x1="0" y1="0" x2="0" y2="1"><stop offset="0%" stop-color="#2a00ec"/><stop offset="1%" stop-color="#2b00ec"/><stop offset="2%" stop-color="#2b00ed"/><stop offset="3%" stop-color="#2c00ed"/><stop offset="4%" stop-color="#2c00ed"/><stop offset="5%" stop-color="#2c00ed"/><stop offset="6%" stop-color="#2d00ed"/><stop offset="7%" stop-color="#2d00ee"/><stop offset="8%" stop-color="#2e00ee"/><stop offset="9%" stop-color="#2f01ee"/><stop offset="10%" stop-color="#3003ee"/><stop offset="11%" stop-color="#3205ee"/><stop offset="12%" stop-color="#3307ee"/><stop offset="13%" stop-color="#3408ee"/><stop offset="14%" stop-color="#360aee"/><stop offset="15%" stop-color="#370cee"/><stop offset="16%" stop-color="#380eee"/><stop offset="17%" stop-color="#3a10ee"/><stop offset="18%" stop-color="#3e16ee"/><stop offset="19%" stop-color="#441eee"/><stop offset="20%" stop-color="#4925ee"/><stop offset="21%" stop-color="#4e2dee"/><stop offset="22%" stop-color="#5335ee"/><stop offset="23%" stop-color="#583cee"/><stop offset="24%" stop-color="#5d43ee"/><stop offset="25%" stop-color="#6149ee"/><stop offset="26%" stop-color="#6650ee"/><stop offset="27%" stop-color="#6b56ee"/><stop offset="28%" stop-color="#6f5dee"/><stop offset="29%" stop-color="#7463ee"/><stop offset="30%" stop-color="#7969ee"/><stop offset="31%" stop-color="#7e70ef"/><stop offset="32%" stop-color="#8476ef"/><stop offset="33%" stop-color="#897cf0"/><stop offset="34%" stop-color="#8f82f0"/><stop offset="35%" stop-color="#9488f1"/><stop offset="36%" stop-color="#998ef1"/><stop offset="37%" stop-color="#9f94f1"/><stop offset="38%" stop-color="#a49af2"/><stop offset="39%" stop-color="#aaa0f2"/><stop offset="40%" stop-color="#afa6f3"/><stop offset="41%" stop-color="#b4acf3"/><stop offset="42%" stop-color="#bab2f4"/><stop offset="43%" stop-color="#bfb8f4"/><stop offset="44%" stop-color="#c5bef5"/><stop offset="45%" stop-color="#cac5f5"/><stop offset="46%" stop-color="#d1ccf6"/><stop offset="47%" stop-color="#d8d3f7"/><stop offset="48%" stop-color="#dedaf9"/><stop offset="49%" stop-color="#e5e2fa"/><stop offset="50%" stop-color="#ebe9fb"/><stop offset="51%" stop-color="#f2f0fc"/><stop offset="52%" stop-color="#f8f7fd"/><stop offset="53%" stop-color="#f8f4f7"/><stop offset="54%" stop-color="#f4eef0"/><stop offset="55%" stop-color="#f1e8e8"/><stop offset="56%" stop-color="#eee2e1"/><stop offset="57%" stop-color="#ebdcd9"/><stop offset="58%" stop-color="#e8d6d1"/><stop offset="59%" stop-color="#e5cfca"/><stop offset="60%" stop-color="#e2cac4"/><stop offset="61%" stop-color="#dfc5bf"/><stop offset="62%" stop-color="#dcbfba"/><stop offset="63%" stop-color="#dabab5"/><stop offset="64%" stop-color="#d7b4b0"/><stop offset="65%" stop-color="#d4afab"/><stop offset="66%" stop-color="#d1aaa6"/><stop offset="67%" stop-color="#cfa4a1"/><stop offset="68%" stop-color="#cc9d9a"/><stop offset="69%" stop-color="#c89693"/><stop offset="70%" stop-color="#c58f8c"/><stop offset="71%" stop-color="#c28886"/><stop offset="72%" stop-color="#bf817f"/><stop offset="73%" stop-color="#bc7a78"/><stop offset="74%" stop-color="#b97371"/><stop offset="75%" stop-color="#b76d6b"/><stop offset="76%" stop-color="#b56765"/><stop offset="77%" stop-color="#b3615f"/><stop offset="78%" stop-color="#b05b59"/><stop offset="79%" stop-color="#ae5553"/><stop offset="80%" stop-color="#ac4f4d"/><stop offset="81%" stop-color="#aa4947"/><stop offset="82%" stop-color="#a94442"/><stop offset="83%" stop-color="#a8413f"/><stop offset="84%" stop-color="#a83e3c"/><stop offset="85%" stop-color="#a73b39"/><stop offset="86%" stop-color="#a73736"/><stop offset="87%" stop-color="#a63433"/><stop offset="88%" stop-color="#a63130"/><stop offset="89%" stop-color="#a52e2d"/><stop offset="90%" stop-color="#a52a2a"/><stop offset="91%" stop-color="#a42727"/><stop offset="92%" stop-color="#a42424"/><stop offset="93%" stop-color="#a32324"/><stop offset="94%" stop-color="#a32223"/><stop offset="95%" stop-color="#a22223"/><stop offset="96%" stop-color="#a12122"/><stop offset="97%" stop-color="#a02022"/><stop offset="98%" stop-color="#a01f21"/><stop offset="99%" stop-color="#9f1f21"/><stop offset="100%" stop-color="#9e1e20"/></linearGradient></defs>
<rect x="802.7" y="30.2" width="34.5" height="336.6" fill="url(#cb)" stroke="#111" stroke-width="1.4"/>
<line x1="802.7" y1="107.60" x2="808.2" y2="107.60" stroke="#222" stroke-width="1.3"/>
<line x1="831.7" y1="107.60" x2="837.2" y2="107.60" stroke="#222" stroke-width="1.3"/>
<text x="849.6" y="115.60" font-size="23.5">0.5</text>
<line x1="802.7" y1="206.00" x2="808.2" y2="206.00" stroke="#222" stroke-width="1.3"/>
<line x1="831.7" y1="206.00" x2="837.2" y2="206.00" stroke="#222" stroke-width="1.3"/>
<text x="849.6" y="214.00" font-size="23.5">0</text>
<line x1="802.7" y1="304.40" x2="808.2" y2="304.40" stroke="#222" stroke-width="1.3"/>
<line x1="831.7" y1="304.40" x2="837.2" y2="304.40" stroke="#222" stroke-width="1.3"/>
<text x="849.6" y="312.40" font-size="23.5">-0.5</text>
</svg></body></html>
